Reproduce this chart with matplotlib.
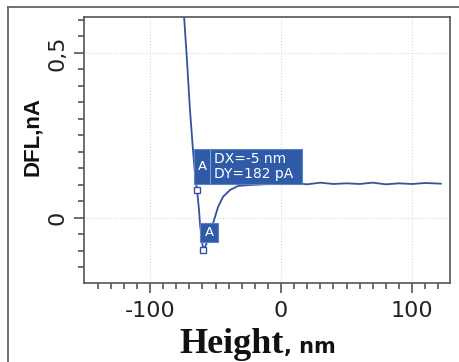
import matplotlib
matplotlib.use("Agg")
import matplotlib.pyplot as plt
from matplotlib.patches import Rectangle
from matplotlib.lines import Line2D
from matplotlib.ticker import FixedLocator, FixedFormatter

plt.rcParams['axes.unicode_minus'] = False

# force curve (height nm, deflection nA)
height = [-74.5, -71.8, -69.5, -67.2, -65.6, -64.1, -62.6, -61.8, -60.3, -59.5,
          -57.3, -54.2, -51.1, -48.1, -44.3, -38.9, -32.8, -23.7, -8.4,
          0, 10, 20, 30, 40, 50, 60, 70, 80, 90, 100, 110, 122]
dfl = [0.64, 0.479, 0.327, 0.206, 0.130, 0.085, 0.024, -0.021, -0.067, -0.097,
       -0.082, -0.042, -0.006, 0.033, 0.064, 0.085, 0.097, 0.100, 0.103,
       0.104, 0.106, 0.102, 0.107, 0.103, 0.105, 0.103, 0.107, 0.102, 0.105, 0.103, 0.106, 0.104]

# cursor points A
cursor_x = [-64.1, -59.5]
cursor_y = [0.085, -0.097]
dx_text = "DX=-5 nm"
dy_text = "DY=182 pA"

x_major = [-100, 0, 100]
x_labels = ["-100", "0", "100"]
y_major = [0, 0.5]
y_labels = ["0", "0,5"]

blue = "#3452a3"
boxc = "#2e5aa7"
grey = "#555555"

fig = plt.figure(figsize=(4.59, 3.62), dpi=100)
ax = fig.add_axes([84/459, 1-283/362, (450-84)/459, (283-17)/362])

ax.plot(height, dfl, color=blue, lw=1.3, zorder=3)
ax.plot(cursor_x, cursor_y, ls='none', marker='s', ms=4, mfc='white', mec=blue, mew=1, zorder=5)

ax.set_xlim(-150.4, 129)
ax.set_ylim(-0.197, 0.609)

ax.xaxis.set_major_locator(FixedLocator(x_major))
ax.xaxis.set_major_formatter(FixedFormatter(x_labels))
ax.xaxis.set_minor_locator(FixedLocator(list(range(-140, 121, 10))))
ax.yaxis.set_major_locator(FixedLocator(y_major))
ax.yaxis.set_major_formatter(FixedFormatter(y_labels))
ax.yaxis.set_minor_locator(FixedLocator([-0.15, -0.1, -0.05, 0.05, 0.1, 0.15, 0.2, 0.25, 0.3,
                                         0.35, 0.4, 0.45, 0.55, 0.6]))

ax.tick_params(axis='both', which='both', direction='out', color=grey, width=1.2)
ax.tick_params(axis='both', which='major', length=7, labelsize=16, labelcolor='#222222')
ax.tick_params(axis='both', which='minor', length=4)
ax.tick_params(axis='x', pad=6)
ax.tick_params(axis='y', pad=5)
for lab in ax.get_yticklabels():
    lab.set_rotation(90)
    lab.set_va('center')

for s in ax.spines.values():
    s.set_color(grey)
    s.set_linewidth(1.2)

ax.grid(True, which='major', color='#d8d8d8', ls=':', lw=0.8)
ax.set_axisbelow(True)

ax.set_ylabel("DFL,nA", family='Liberation Sans', fontweight='bold', fontsize=16, color='#111111')
ax.yaxis.set_label_coords(-0.112, (283-136)/266)

# annotation boxes
ax.add_patch(Rectangle((-66.4, 0.103), 82.4, 0.106, facecolor=boxc, edgecolor='#5d83c6', lw=0.8, zorder=6))
ax.plot([-54.2, -54.2], [0.106, 0.206], color='#7b9bd3', lw=0.8, zorder=7)
ax.text(-60.3, 0.156, "A", color='white', fontsize=9.5, ha='center', va='center', zorder=8)
ax.text(-51.5, 0.178, dx_text, color='white', fontsize=10, ha='left', va='center', zorder=8)
ax.text(-51.5, 0.133, dy_text, color='white', fontsize=10, ha='left', va='center', zorder=8)
ax.add_patch(Rectangle((-61.8, -0.073), 13.7, 0.058, facecolor=boxc, edgecolor='#5d83c6', lw=0.8, zorder=6))
ax.text(-55.0, -0.044, "A", color='white', fontsize=9.5, ha='center', va='center', zorder=8)

# x label: serif "Height" + sans ", nm"
fig.text(284/459, 1-353/362, "Height", family='Liberation Serif', fontweight='bold',
         fontsize=26, ha='right', va='baseline', color='#111111')
fig.text(284/459, 1-353/362, ", nm", family='DejaVu Sans', fontweight='bold',
         fontsize=15, ha='left', va='baseline', color='#111111')

# outer frame
fig.add_artist(Line2D([8/459, 1], [1-7/362, 1-7/362], color='#666666', lw=1.3))
fig.add_artist(Line2D([8/459, 8/459], [0, 1-7/362], color='#666666', lw=1.3))

fig.savefig("out.png", dpi=100)
